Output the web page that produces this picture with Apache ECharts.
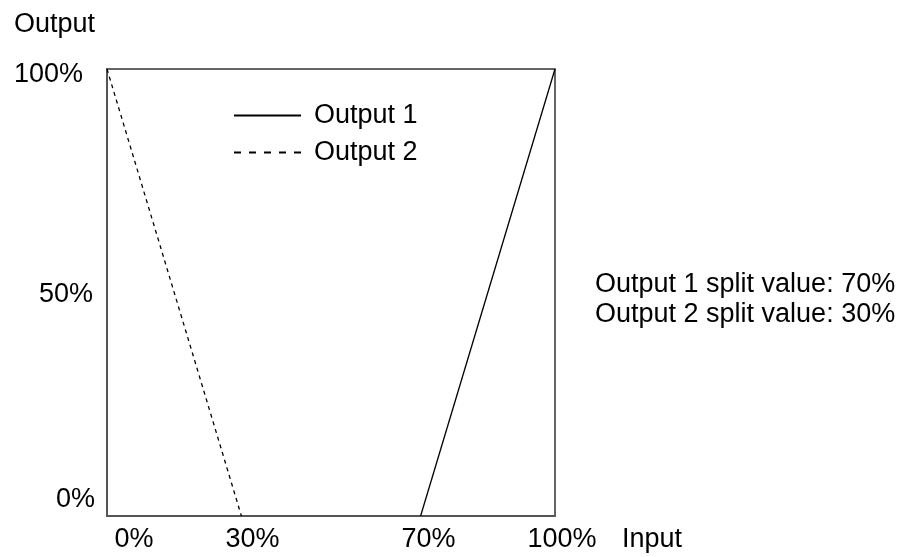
<!DOCTYPE html>
<html>
<head>
<meta charset="utf-8">
<script src="https://cdn.jsdelivr.net/npm/echarts@6/dist/echarts.min.js"></script>
<style>html,body{margin:0;padding:0;background:#fff}#c{width:919px;height:557px}</style>
</head>
<body>
<div id="c"></div>
<script>
var seriesNames = ['Output 1', 'Output 2'];
var output1 = [[70, 0], [100, 100]];
var output2 = [[0, 100], [30, 0]];
var xTicks = [0, 30, 70, 100];
var yTicks = [0, 50, 100];
var splitValues = [70, 30];

var FONT = 'Liberation Sans, Arial, sans-serif';
var FS = 27;

var chart = echarts.init(document.getElementById('c'), null, {renderer: 'canvas'});
var xShift = {0: 54, 30: 22, 70: 16, 100: 14};
var yRich = {
  y100: {fontSize: FS, fontFamily: FONT, color: '#000', padding: [12, 12, 0, 0]},
  y50: {fontSize: FS, fontFamily: FONT, color: '#000', padding: [4, 2, 0, 0]},
  y0: {fontSize: FS, fontFamily: FONT, color: '#000', padding: [0, 0, 32, 0]}
};
var xRich = {};
xTicks.forEach(function (v) {
  xRich['x' + v] = {fontSize: FS, fontFamily: FONT, color: '#000', padding: [0, 0, 0, xShift[v]]};
});

chart.setOption({
  animation: false,
  backgroundColor: '#fff',
  textStyle: {fontFamily: FONT},
  grid: {left: 107, top: 69, right: 364, bottom: 41, show: true, borderColor: '#333', borderWidth: 1.5},
  legend: {
    data: [
      {name: seriesNames[0], lineStyle: {width: 2, type: 'solid'}},
      {name: seriesNames[1], lineStyle: {width: 2, type: [7, 8]}}
    ],
    orient: 'vertical',
    left: 228,
    top: 97,
    itemWidth: 67,
    itemHeight: 14,
    itemGap: 10,
    itemStyle: {color: 'transparent', borderWidth: 0, opacity: 0},
    textStyle: {fontSize: FS, fontFamily: FONT, color: '#000', padding: [0, 0, 0, 8]}
  },
  xAxis: {
    type: 'value', min: 0, max: 100,
    name: 'Input', nameLocation: 'end', nameGap: 67,
    nameTextStyle: {fontSize: FS, fontFamily: FONT, color: '#000', verticalAlign: 'top', padding: [10, 0, 0, 0]},
    axisLine: {show: true, lineStyle: {color: '#555', width: 2}},
    axisTick: {show: false},
    splitLine: {show: false},
    axisLabel: {
      customValues: xTicks, margin: 10,
      formatter: function (v) { return '{x' + v + '|' + v + '%}'; },
      rich: xRich
    }
  },
  yAxis: {
    type: 'value', min: 0, max: 100,
    name: 'Output', nameLocation: 'end', nameGap: 31,
    nameTextStyle: {fontSize: FS, fontFamily: FONT, color: '#000', align: 'right', padding: [0, 12, 0, 0]},
    axisLine: {show: true, lineStyle: {color: '#555', width: 2}},
    axisTick: {show: false},
    splitLine: {show: false},
    axisLabel: {
      customValues: yTicks, margin: 12,
      formatter: function (v) { return '{y' + v + '|' + v + '%}'; },
      rich: yRich
    }
  },
  title: {
    text: 'Output 1 split value: ' + splitValues[0] + '%\nOutput 2 split value: ' + splitValues[1] + '%',
    left: 595, top: 270, padding: 0,
    textStyle: {fontSize: FS, fontFamily: FONT, color: '#000', fontWeight: 'normal', lineHeight: 30}
  },
  series: [
    {name: seriesNames[0], type: 'line', data: output1, symbol: 'none', lineStyle: {color: '#000', width: 1.3, type: 'solid'}, itemStyle: {color: '#000'}},
    {name: seriesNames[1], type: 'line', data: output2, symbol: 'none', lineStyle: {color: '#000', width: 1.3, type: [4, 4]}, itemStyle: {color: '#000'}}
  ]
});
</script>
</body>
</html>
